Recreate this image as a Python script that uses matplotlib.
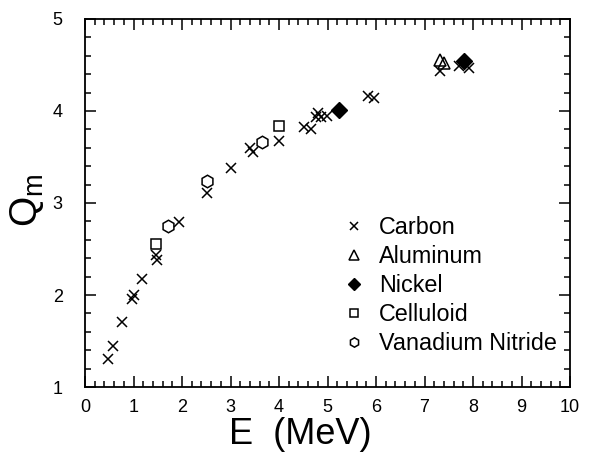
import matplotlib
matplotlib.use("Agg")
import matplotlib.pyplot as plt
from matplotlib.ticker import MultipleLocator

plt.rcParams['font.family'] = ['Liberation Sans', 'DejaVu Sans']

carbon_E = [0.48, 0.58, 0.77, 0.96, 1.01, 1.17, 1.46, 1.48, 1.94, 2.51, 3.0, 3.40, 3.46, 4.0,
            4.51, 4.67, 4.77, 4.81, 4.86, 4.98, 5.84, 5.95, 7.31, 7.72, 7.92]
carbon_Q = [1.30, 1.45, 1.71, 1.96, 2.00, 2.17, 2.43, 2.38, 2.79, 3.11, 3.38, 3.60, 3.55, 3.67,
            3.83, 3.80, 3.94, 3.98, 3.93, 3.95, 4.16, 4.14, 4.43, 4.49, 4.47]
alum_E = [7.31, 7.41]
alum_Q = [4.55, 4.52]
nickel_E = [5.24, 7.81]
nickel_Q = [4.01, 4.54]
cell_E = [1.46, 4.01]
cell_Q = [2.55, 3.84]
vn_E = [1.72, 2.51, 3.64]
vn_Q = [2.75, 3.24, 3.66]

fig = plt.figure(figsize=(5.96, 4.57), dpi=100)
ax = fig.add_axes([85/596, 1-387/457, (570-85)/596, (387-19)/457])

ax.plot(carbon_E, carbon_Q, ls='none', marker='x', ms=7, mew=1.1, color='black', label='Carbon')
ax.plot(alum_E, alum_Q, ls='none', marker='^', ms=9, mfc='none', mew=1.1, color='black', label='Aluminum')
ax.plot(nickel_E, nickel_Q, ls='none', marker='D', ms=8, color='black', label='Nickel')
ax.plot(cell_E, cell_Q, ls='none', marker='s', ms=7, mfc='none', mew=1.1, color='black', label='Celluloid')
ax.plot(vn_E, vn_Q, ls='none', marker='h', ms=9, mfc='none', mew=1.1, color='black', label='Vanadium Nitride')

ax.set_xlim(0, 10)
ax.set_ylim(1, 5)
ax.xaxis.set_major_locator(MultipleLocator(1))
ax.xaxis.set_minor_locator(MultipleLocator(0.2))
ax.yaxis.set_major_locator(MultipleLocator(1))
ax.yaxis.set_minor_locator(MultipleLocator(0.2))
ax.tick_params(which='both', direction='in', top=True, right=True, width=1.1)
ax.tick_params(which='major', length=8)
ax.tick_params(which='minor', length=4)
ax.tick_params(axis='x', which='major', labelsize=13, pad=9)
ax.tick_params(axis='y', which='major', labelsize=13, pad=16)
for s in ax.spines.values():
    s.set_linewidth(1.3)

fig.text(300/596, 1-434/457, 'E  (MeV)', fontsize=26, ha='center', va='center')
fig.text(27/596, 1-200/457, r'$\mathregular{Q_m}$', fontsize=28, rotation=90, ha='center', va='center')

leg = ax.legend(loc='upper left', bbox_to_anchor=(0.512, 0.497), frameon=False, fontsize=16.8,
                markerscale=0.75, handlelength=0.8, handletextpad=0.65, labelspacing=0.26,
                borderpad=0)

fig.savefig('out.png', dpi=100)
